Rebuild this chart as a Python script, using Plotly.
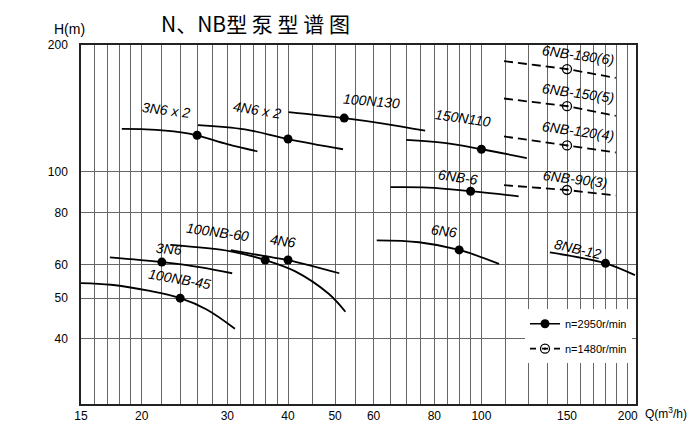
import numpy as np
import plotly.graph_objects as go

# ---------------- axis ticks / grid ----------------
Q_GRID = [15, 16, 17, 18, 19, 20, 22, 24, 26, 28, 30, 32, 34, 36, 38, 40, 45, 50, 55,
          60, 65, 70, 75, 80, 85, 90, 95, 100, 112, 125, 137, 150, 160, 170, 180, 190, 200]
Q_LABELED = [15, 20, 30, 40, 50, 60, 80, 100, 150, 200]
H_GRID = [40, 50, 60, 80, 100, 200]

# ---------------- n = 2950 r/min curves ----------------
Q_3N6x2 = [18.2, 20.4, 24.1, 26, 30, 34.6]
H_3N6x2 = [126.3, 126, 124, 122, 116.2, 111.7]

Q_4N6x2 = [26.1, 32.6, 40, 51.9]
H_4N6x2 = [129, 126, 119.5, 113]

Q_100N130 = [40.1, 52.2, 63.3, 76.6]
H_100N130 = [138.5, 134, 129.9, 125.1]

Q_150N110 = [70, 83.8, 100, 124]
H_150N110 = [118.9, 117, 113, 107.7]

Q_6NB6 = [65, 77.7, 95, 119.3]
H_6NB6 = [91.8, 91.6, 89.8, 87.3]

Q_3N6 = [17.2, 22, 26.5, 30.7]
H_3N6 = [62.5, 60.9, 59.2, 57.3]

Q_100NB45 = [15, 17.3, 20.8, 24, 27.2, 31.1]
H_100NB45 = [54.3, 53.8, 52, 50, 47, 42.3]

Q_100NB60 = [22.9, 30.5, 35.9, 41.4, 48.5, 52.5]
H_100NB60 = [66.9, 64.6, 61.6, 57.9, 51.2, 46.4]

Q_4N6 = [30.5, 35.9, 40, 51]
H_4N6 = [65.0, 62.9, 61.6, 57.3]

Q_6N6 = [60.9, 74.4, 90, 108.7]
H_6N6 = [68.6, 67.9, 65.1, 60.3]

Q_8NB12 = [138.3, 180, 207]
H_8NB12 = [64.2, 60.5, 56.7]

# best-efficiency points (2950 r/min)
BEP_Q_2950 = [26, 40, 52.2, 100, 95, 22, 24, 35.9, 40, 90, 180]
BEP_H_2950 = [122, 119.5, 134, 113, 89.8, 60.9, 50, 61.6, 61.6, 65.1, 60.5]

# ---------------- n = 1480 r/min curves ----------------
Q_6NB180 = [111.3, 150, 189]
H_6NB180 = [183.1, 175.3, 167]
Q_6NB150 = [111.3, 150, 189]
H_6NB150 = [149.2, 143.1, 135.7]
Q_6NB120 = [111.3, 150, 189]
H_6NB120 = [121.2, 115.4, 111]
Q_6NB90 = [111.3, 150, 189]
H_6NB90 = [92.8, 90.4, 87.7]

BEP_Q_1480 = [150, 150, 150, 150]
BEP_H_1480 = [175.3, 143.1, 115.4, 90.4]

# ---------------- curve labels ----------------
LABEL_TEXT = ["3N6 x 2", "4N6 x 2", "100N130", "150N110", "6NB-6",
              "6NB-180(6)", "6NB-150(5)", "6NB-120(4)", "6NB-90(3)",
              "3N6", "100NB-45", "100NB-60", "4N6", "6N6", "8NB-12"]
LABEL_Q = [22.4, 34.6, 59.5, 91.6, 89.3, 158.3, 158.3, 158.3, 156,
           22.8, 23.9, 28.6, 39.1, 83.8, 157.7]
LABEL_H = [137.6, 138, 144.4, 132, 95.5, 186.6, 151.6, 123.1, 94.6,
           64.4, 54.5, 70.6, 67.4, 70.9, 64.4]
LABEL_ANGLE = [7, 9, 5, 8, 8, 8, 8, 8, 7, 5, 10, 8, 8, 8, 13]

solid = [(Q_3N6x2, H_3N6x2), (Q_4N6x2, H_4N6x2), (Q_100N130, H_100N130),
         (Q_150N110, H_150N110), (Q_6NB6, H_6NB6), (Q_3N6, H_3N6),
         (Q_100NB45, H_100NB45), (Q_100NB60, H_100NB60), (Q_4N6, H_4N6),
         (Q_6N6, H_6N6), (Q_8NB12, H_8NB12)]
dashed = [(Q_6NB180, H_6NB180), (Q_6NB150, H_6NB150),
          (Q_6NB120, H_6NB120), (Q_6NB90, H_6NB90)]

FONT = "Liberation Sans, Arial, sans-serif"
DASH = "9px,5px"

fig = go.Figure()
for q, h in solid:
    fig.add_trace(go.Scatter(x=q, y=h, mode="lines", line=dict(color="black", width=1.8, shape="spline"),
                             showlegend=False, hoverinfo="skip"))
for q, h in dashed:
    fig.add_trace(go.Scatter(x=q, y=h, mode="lines", line=dict(color="black", width=1.8, dash=DASH),
                             showlegend=False, hoverinfo="skip"))
fig.add_trace(go.Scatter(x=BEP_Q_2950, y=BEP_H_2950, mode="markers",
                         marker=dict(color="black", size=9, symbol="circle"), showlegend=False))
fig.add_trace(go.Scatter(x=BEP_Q_1480, y=BEP_H_1480, mode="markers",
                         marker=dict(color="black", size=9, symbol="circle-open-dot", line=dict(width=1.3)),
                         showlegend=False))
# legend entries
fig.add_trace(go.Scatter(x=[None], y=[None], mode="lines+markers", name="n=2950r/min",
                         line=dict(color="black", width=1.5),
                         marker=dict(color="black", size=9, symbol="circle"), legendgroup="a"))
fig.add_trace(go.Scatter(x=[None], y=[None], mode="lines+markers", name="n=1480r/min",
                         line=dict(color="black", width=1.8, dash="6px,6px"),
                         marker=dict(color="black", size=9, symbol="circle-open-dot", line=dict(width=1.3)),
                         legendgroup="b"))

for t, q, h, a in zip(LABEL_TEXT, LABEL_Q, LABEL_H, LABEL_ANGLE):
    fig.add_annotation(x=np.log10(q), y=np.log10(h), text="<i>" + t + "</i>", showarrow=False,
                       textangle=a, xanchor="center", yanchor="middle", yshift=3,
                       font=dict(family=FONT, size=14, color="black"))

fig.add_annotation(xref="paper", yref="paper", x=0.315, y=1.061, xanchor="center", yanchor="middle",
                   text="N、NB型 泵 型 谱 图", showarrow=False,
                   font=dict(family="Noto Sans CJK SC", size=21, color="black"))
fig.add_annotation(xref="paper", yref="paper", x=-0.02, y=1.045, xanchor="center", yanchor="middle",
                   text="H(m)", showarrow=False, font=dict(family=FONT, size=14, color="black"))
fig.add_annotation(xref="paper", yref="paper", x=1.0126, y=-0.025, xanchor="left", yanchor="middle",
                   text="Q(m<sup>3</sup>/h)", showarrow=False, font=dict(family=FONT, size=12, color="black"))

# page body adds an 8px offset, margins compensate for it
fig.update_layout(
    width=700, height=429,
    margin=dict(l=73, r=72, t=37, b=33),
    paper_bgcolor="white", plot_bgcolor="white",
    font=dict(family=FONT, color="black"),
    legend=dict(x=0.80, y=0.264, xanchor="left", yanchor="top", bgcolor="white",
                font=dict(family=FONT, size=11), tracegroupgap=6),
    xaxis=dict(type="log", range=[np.log10(15), np.log10(208)],
               tickvals=Q_GRID, ticktext=[str(v) if v in Q_LABELED else "" for v in Q_GRID],
               showgrid=True, gridcolor="#666", gridwidth=1, zeroline=False,
               showline=True, linecolor="#222", linewidth=1.5, mirror=True,
               ticks="", tickfont=dict(family=FONT, size=12)),
    yaxis=dict(type="log", range=[np.log10(28), np.log10(200)],
               tickvals=H_GRID, ticktext=[str(v) for v in H_GRID],
               showgrid=True, gridcolor="#666", gridwidth=1, zeroline=False,
               showline=True, linecolor="#222", linewidth=1.5, mirror=True,
               ticks="", ticklabelstandoff=9, tickfont=dict(family=FONT, size=12)),
)

fig.write_html("out.html")
